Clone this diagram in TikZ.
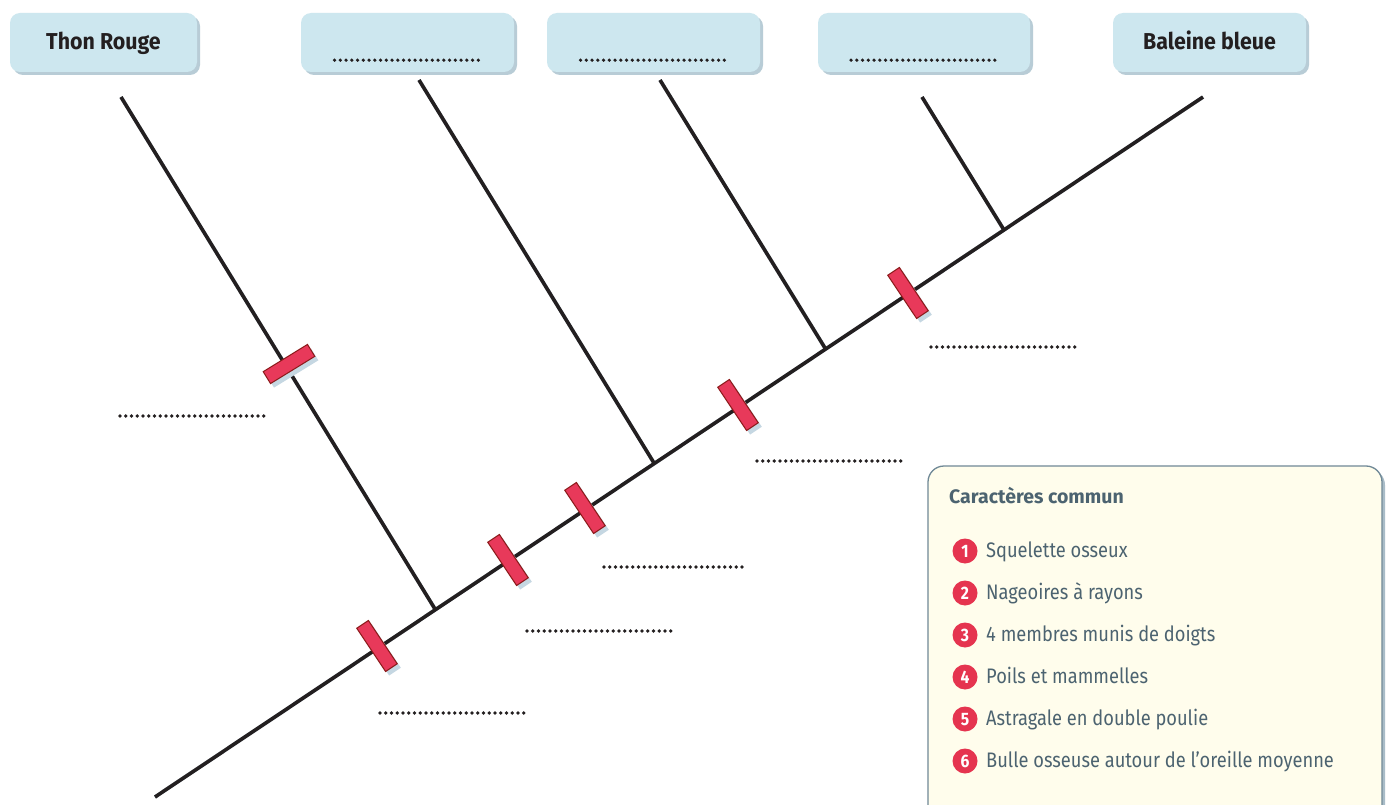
\documentclass[tikz,border=0pt]{standalone}
\usepackage{fontspec}
\setmainfont{Fira Sans}
\newfontfamily\boxfont[FakeStretch=0.93]{Fira Sans}
\newfontfamily\itemfont[FakeStretch=0.87]{Fira Sans}
\usetikzlibrary{calc}
\definecolor{boxfill}{HTML}{CDE7EF}
\definecolor{boxshadow}{HTML}{B8CCD6}
\definecolor{lineshadow}{HTML}{C5D7E2}
\definecolor{ink}{HTML}{231F20}
\definecolor{markfill}{HTML}{E8395A}
\definecolor{markborder}{HTML}{8B1A1A}
\definecolor{legfill}{HTML}{FFFDEC}
\definecolor{legborder}{HTML}{6F8896}
\definecolor{legshadow}{HTML}{A9BCC7}
\definecolor{legtext}{HTML}{4C6370}
\definecolor{numred}{HTML}{E5344F}
\tikzset{
  taxon/.style={rounded corners=10pt, fill=boxfill, minimum height=59pt, inner sep=0pt,
     text height=18pt, text depth=3pt,
     font=\boxfont\fontsize{23}{26}\selectfont\bfseries, text=ink},
  taxonshadow/.style={rounded corners=10pt, fill=boxshadow, minimum height=59pt, inner sep=0pt},
  branchline/.style={draw=ink, line width=3.6pt},
  branchshadow/.style={draw=lineshadow, line width=3.6pt},
  blank/.style={draw=ink, line width=3.6pt, line cap=round, dash pattern=on 0pt off 5.75pt},
  marker/.style={rectangle, fill=markfill, draw=markborder, line width=1pt,
     minimum width=52pt, minimum height=14pt, inner sep=0pt},
  markershadow/.style={rectangle, fill=lineshadow, minimum width=52pt, minimum height=14pt, inner sep=0pt},
  numdot/.style={circle, fill=numred, minimum size=25pt, inner sep=0pt, text=white,
     text height=12.5pt, text depth=0pt,
     font=\itemfont\fontsize{18}{18}\selectfont\bfseries},
  legitem/.style={anchor=base west, inner sep=0pt, text=legtext, font=\itemfont\fontsize{21}{24}\selectfont},
}
\begin{document}
\begin{tikzpicture}[x=1pt,y=-1pt]
\useasboundingbox (0,0) rectangle (1390,805);
\clip (0,0) rectangle (1390,805);
\fill[white] (0,0) rectangle (1390,805);

% top boxes
\foreach \cx/\w in {103.5/187, 407.5/213, 653.5/213, 924/212, 1209.5/193}
  \node[taxonshadow, minimum width=\w pt] at (\cx+3,45.5) {};
\node[taxon, minimum width=187pt] (b1) at (103.5,42.5) {Thon Rouge};
\node[taxon, minimum width=213pt] (b2) at (407.5,42.5) {};
\node[taxon, minimum width=213pt] (b3) at (653.5,42.5) {};
\node[taxon, minimum width=212pt] (b4) at (924,42.5) {};
\node[taxon, minimum width=193pt] (b5) at (1209.5,42.5) {Baleine bleue};
\foreach \b in {b2,b3,b4}
  \draw[blank] ($(\b.south)+(-73,-12)$) -- ($(\b.south)+(73,-12)$);

% tree coordinates
\coordinate (root) at (155,797);
\coordinate (top) at (1203,97);
\coordinate (t1) at (121,97);
\coordinate (j1) at (435,609);
\coordinate (t2) at (419,80);
\coordinate (j2) at (654,463);
\coordinate (t3) at (660,80);
\coordinate (j3) at (825,348);
\coordinate (t4) at (922,97);
\coordinate (j4) at (1004,230);

% shadows of lines
\begin{scope}[xshift=3pt, yshift=-3pt]
\draw[branchshadow] (root) -- (top);
\draw[branchshadow] (t1) -- (j1);
\draw[branchshadow] (t2) -- (j2);
\draw[branchshadow] (t3) -- (j3);
\draw[branchshadow] (t4) -- (j4);
\end{scope}
\draw[branchline] (root) -- (top);
\draw[branchline] (t1) -- (j1);
\draw[branchline] (t2) -- (j2);
\draw[branchline] (t3) -- (j3);
\draw[branchline] (t4) -- (j4);

% markers
\foreach \x/\y/\r in {289/364/31.6, 377/646/123.7, 508/560/123.7, 585/508/123.7, 738/405/123.7, 908/293/123.7}
  \node[markershadow, rotate=\r] at (\x+3.5,\y+4) {};
\node[marker, rotate=31.6] (m1) at (289,364) {};
\node[marker, rotate=123.7] (m2) at (377,646) {};
\node[marker, rotate=123.7] (m3) at (508,560) {};
\node[marker, rotate=123.7] (m4) at (585,508) {};
\node[marker, rotate=123.7] (m5) at (738,405) {};
\node[marker, rotate=123.7] (m6) at (908,293) {};

% blanks for characters
\draw[blank] (120,416) -- (264,416);
\draw[blank] (931,347) -- (1076,347);
\draw[blank] (757,461) -- (901,461);
\draw[blank] (604,567) -- (747,567);
\draw[blank] (527,631) -- (671,631);
\draw[blank] (380,713) -- (524,713);

% legend
\fill[legshadow, rounded corners=16pt] (931,469) rectangle (1385,840);
\draw[fill=legfill, draw=legborder, line width=1.3pt, rounded corners=16pt] (928,466) rectangle (1382,840);
\node[anchor=base west, inner sep=0pt, text=legtext, font=\fontsize{19.5}{22}\selectfont\bfseries] (title) at (949,503.5) {Caractères commun};
\foreach \n/\t [count=\i from 0] in {1/Squelette osseux, 2/Nageoires à rayons, 3/4 membres munis de doigts, 4/Poils et mammelles, 5/Astragale en double poulie, 6/Bulle osseuse autour de l’oreille moyenne}{
  \node[numdot] (n\n) at (965,551+42*\i) {\n};
  \node[legitem] (l\n) at (986,557.5+42*\i) {\t};
}
\end{tikzpicture}
\end{document}
